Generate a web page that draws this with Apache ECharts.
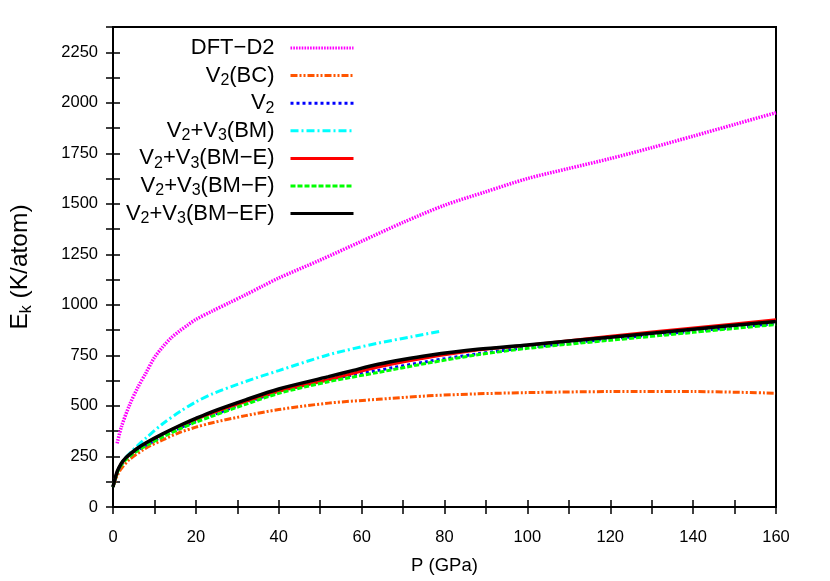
<!DOCTYPE html>
<html>
<head>
<meta charset="utf-8">
<script src="https://cdn.jsdelivr.net/npm/echarts@6/dist/echarts.min.js"></script>
<style>html,body{margin:0;padding:0;background:#fff}#c{width:830px;height:581px}</style>
</head>
<body>
<div id="c"></div>
<script>
// Pressure (GPa) and kinetic energy (K/atom)
var dftP = [1, 2, 4, 6, 8, 10, 12, 14, 16, 18, 20, 24, 28, 32, 36, 40, 50, 60, 70, 80, 90, 100, 110, 120, 130, 140, 150, 160];
var dftE = [315, 395, 505, 592, 665, 740, 792, 836, 870, 900, 928, 970, 1010, 1050, 1092, 1133, 1222, 1315, 1408, 1493, 1560, 1625, 1675, 1724, 1778, 1835, 1893, 1951];

var bcP = [0, 1, 2, 4, 8, 12, 16, 20, 24, 32, 40, 52, 64, 76, 88, 100, 120, 140, 160];
var bcE = [100, 155, 190, 235, 292, 332, 368, 395, 417, 452, 482, 514, 533, 550, 560, 566, 571, 571, 563];

var v2P = [0, 1, 2, 3, 4, 6, 8, 12, 16, 20, 24, 32, 40, 52, 64, 76, 88, 100, 120, 140, 160];
var v2E = [100, 170, 210, 235, 253, 283, 307, 350, 390, 425, 455, 515, 570, 630, 676, 720, 758, 789, 832, 870, 908];

var bmP = [0, 1, 2, 3, 4, 6, 8, 12, 16, 20, 24, 32, 40, 52, 64, 72, 79];
var bmE = [100, 172, 215, 243, 265, 305, 342, 412, 470, 520, 560, 621, 675, 753, 811, 842, 870];

var bmeP = [0, 1, 2, 3, 4, 6, 8, 12, 16, 20, 24, 32, 40, 52, 64, 76, 88, 100, 120, 140, 160];
var bmeE = [100, 172, 214, 240, 258, 290, 316, 360, 400, 434, 466, 522, 572, 630, 693, 740, 777, 800, 845, 886, 926];

var bmfP = [0, 1, 2, 3, 4, 6, 8, 12, 16, 20, 24, 32, 40, 52, 64, 76, 88, 100, 120, 140, 160];
var bmfE = [100, 168, 207, 232, 250, 280, 304, 347, 385, 420, 450, 508, 562, 620, 666, 712, 753, 785, 825, 864, 903];

var bmefP = [0, 1, 2, 3, 4, 6, 8, 12, 16, 20, 24, 32, 40, 52, 58, 64, 70, 76, 88, 100, 120, 140, 160];
var bmefE = [100, 175, 216, 242, 260, 292, 318, 362, 402, 438, 472, 530, 584, 645, 676, 706, 730, 750, 780, 802, 840, 880, 918];

var seriesNames = ['DFT\u2212D2', 'V2(BC)', 'V2', 'V2+V3(BM)', 'V2+V3(BM\u2212E)', 'V2+V3(BM\u2212F)', 'V2+V3(BM\u2212EF)'];
var xTickLabels = [0, 20, 40, 60, 80, 100, 120, 140, 160];
var yTickLabels = [0, 250, 500, 750, 1000, 1250, 1500, 1750, 2000, 2250];

function zip(a, b) { return a.map(function (v, i) { return [v, b[i]]; }); }

var FONT = 'Liberation Sans';
var chart = echarts.init(document.getElementById('c'), null, {renderer: 'canvas'});

function mk(name, xs, ys, color, type, width) {
  return {
    name: name, type: 'line', data: zip(xs, ys), symbol: 'none', showSymbol: false,
    smooth: 0.3,
    xAxisIndex: 0, yAxisIndex: 0,
    lineStyle: {color: color, width: width, type: type, cap: 'butt'},
    itemStyle: {color: color},
    animation: false
  };
}

function subFmt(name) {
  return name.replace(/V(\d)/g, 'V{sub|$1}');
}

var axisCommon = {
  type: 'value',
  axisLine: {show: false},
  splitLine: {show: false},
  axisTick: {show: true, inside: true, length: 7, lineStyle: {color: '#000', width: 1.5}},
  axisLabel: {fontFamily: FONT, fontSize: 16.5, color: '#000'}
};

var option = {
  animation: false,
  backgroundColor: '#fff',
  grid: {left: 113, right: 54, top: 27, bottom: 74, outerBoundsMode: 'none', containLabel: false,
    show: true, borderColor: '#000', borderWidth: 2, backgroundColor: 'transparent'},
  legend: {
    orient: 'vertical', align: 'right', right: 475, top: 35, padding: 0,
    itemWidth: 63, itemHeight: 14, itemGap: 1.6,
    data: seriesNames,
    formatter: subFmt,
    itemStyle: {color: 'transparent', borderColor: 'transparent', borderWidth: 0, opacity: 0},
    lineStyle: {width: 3},
    textStyle: {
      fontFamily: FONT, fontSize: 22, color: '#000', lineHeight: 26, padding: [0, 11, 0, 0],
      rich: {sub: {fontFamily: FONT, fontSize: 16, lineHeight: 12, verticalAlign: 'bottom', color: '#000'}}
    }
  },
  xAxis: [
    Object.assign({}, axisCommon, {
      min: 0, max: 160, interval: 10, position: 'bottom',
      name: 'P (GPa)', nameLocation: 'middle', nameGap: 49,
      nameTextStyle: {fontFamily: FONT, fontSize: 18.5, color: '#000'},
      axisLabel: {fontFamily: FONT, fontSize: 16.5, color: '#000', margin: 22,
        formatter: function (v) { return xTickLabels.indexOf(v) >= 0 ? String(v) : ''; }}
    }),
    Object.assign({}, axisCommon, {
      min: 0, max: 160, interval: 10, position: 'top', axisLabel: {show: false}
    })
  ],
  yAxis: [
    Object.assign({}, axisCommon, {
      min: 0, max: 2375, interval: 125, position: 'left',
      name: 'E{sub|k} (K/atom)', nameLocation: 'middle', nameGap: 78,
      nameTextStyle: {fontFamily: FONT, fontSize: 24.5, color: '#000', lineHeight: 30,
        rich: {sub: {fontFamily: FONT, fontSize: 16, lineHeight: 14, verticalAlign: 'bottom', color: '#000'}}},
      axisLabel: {fontFamily: FONT, fontSize: 16.5, color: '#000', margin: 15,
        formatter: function (v) { return yTickLabels.indexOf(v) >= 0 ? String(v) : ''; }}
    }),
    Object.assign({}, axisCommon, {
      min: 0, max: 2375, interval: 125, position: 'right', axisLabel: {show: false}
    })
  ],
  series: [
    mk(seriesNames[0], dftP, dftE, '#ff00ff', [1.6, 1.2], 3.5),
    mk(seriesNames[1], bcP, bcE, '#ff5500', [7, 2, 2, 2, 2, 2], 3),
    mk(seriesNames[2], v2P, v2E, '#0000ff', [3, 3], 3),
    mk(seriesNames[3], bmP, bmE, '#00ffff', [8, 3, 2, 3], 3),
    mk(seriesNames[4], bmeP, bmeE, '#ff0000', 'solid', 3),
    mk(seriesNames[5], bmfP, bmfE, '#00ff00', [5, 2], 3),
    mk(seriesNames[6], bmefP, bmefE, '#000000', 'solid', 3.5)
  ]
};
chart.setOption(option);
</script>
</body>
</html>
